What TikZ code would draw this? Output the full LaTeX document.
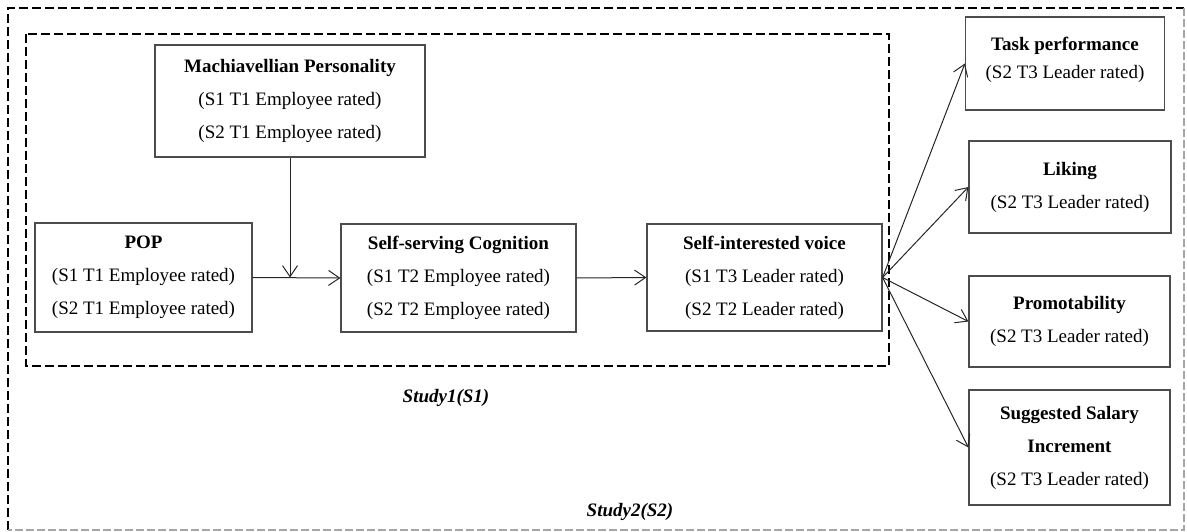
\documentclass[tikz,border=0pt]{standalone}
\usepackage{fontspec}
\setmainfont{Liberation Serif}
\usetikzlibrary{arrows.meta}
\tikzset{
  box/.style={draw=black!70, line width=1.2pt, rectangle, inner sep=0pt, align=center,
    font=\fontsize{19}{33}\selectfont},
  conn/.style={draw=black!85, line width=1pt, -{Straight Barb[length=11pt,width=15pt]}},
  studyin/.style={draw=black, line width=2.8pt, dash pattern=on 9pt off 4pt},
  studyout/.style={draw=black, line width=2.8pt, dash pattern=on 9pt off 4pt},
  studyfaint/.style={draw=black!35, line width=1.4pt, dash pattern=on 8pt off 3pt},
  studylabel/.style={font=\fontsize{19}{22}\selectfont\bfseries\itshape, inner sep=0pt}
}
\begin{document}
\begin{tikzpicture}[x=1pt,y=-1pt]
\useasboundingbox (0,0) rectangle (1187,532);
% outer study 2 frame
\coordinate (oTL) at (8,8);
\coordinate (oTR) at (1184,8);
\coordinate (oBL) at (8,530);
\coordinate (oBR) at (1184,530);
\draw[studyout] (oBL) -- (oTL) -- (oTR);
\draw[studyfaint] (oTR) -- (oBR) -- (oBL);
% inner study 1 frame
\coordinate (iTL) at (26,34);
\coordinate (iBR) at (889,366);
\draw[studyin] (iTL) rectangle (iBR);

\node[box, minimum width=270pt, minimum height=112pt] (mach) at (290,101)
  {\textbf{Machiavellian Personality}\\(S1 T1 Employee rated)\\(S2 T1 Employee rated)};
\node[box, minimum width=217pt, minimum height=109pt] (pop) at (143.5,277.5)
  {\textbf{POP}\\(S1 T1 Employee rated)\\(S2 T1 Employee rated)};
\node[box, minimum width=235pt, minimum height=108pt] (ssc) at (458.5,278)
  {\textbf{Self-serving Cognition}\\(S1 T2 Employee rated)\\(S2 T2 Employee rated)};
\node[box, minimum width=235pt, minimum height=107pt] (siv) at (764.5,277.5)
  {\textbf{Self-interested voice}\\(S1 T3 Leader rated)\\(S2 T2 Leader rated)};

\node[box, minimum width=199pt, minimum height=93pt] (task) at (1065,63.5)
  {\textbf{Task performance}\\[-5pt](S2 T3 Leader rated)\\[-22pt]\mbox{}};
\node[box, minimum width=202pt, minimum height=92pt] (liking) at (1070,187)
  {\textbf{Liking}\\(S2 T3 Leader rated)};
\node[box, minimum width=201pt, minimum height=91pt] (promo) at (1069.5,321.5)
  {\textbf{Promotability}\\(S2 T3 Leader rated)};
\node[box, minimum width=201pt, minimum height=115pt] (salary) at (1069.5,447.5)
  {\textbf{Suggested Salary}\\\textbf{Increment}\\(S2 T3 Leader rated)};

\node[studylabel] (s1) at (446,398) {Study1(S1)};
\node[studylabel] (s2) at (630,512) {Study2(S2)};

% connectors
\coordinate (mod) at (mach.south |- pop.east);
\draw[conn] (pop.east) -- (ssc.west);
\draw[conn] (mach.south) -- (mod);
\draw[conn] (ssc.west -| ssc.east) -- (siv.west);
\draw[conn] (siv.east) -- (task.west);
\draw[conn] (siv.east) -- (liking.west);
\draw[conn] (siv.east) -- (promo.west);
\draw[conn] (siv.east) -- (salary.west);
\end{tikzpicture}
\end{document}
